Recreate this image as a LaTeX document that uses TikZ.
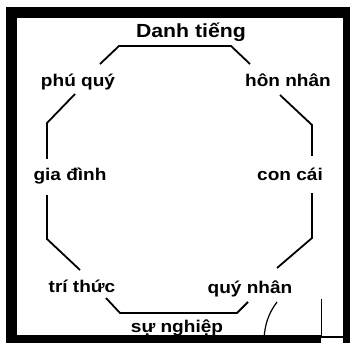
\documentclass[tikz,border=0pt]{standalone}
\usepackage{fontspec}
\newfontfamily\labfont[FakeStretch=1.12]{Liberation Sans Bold}
\begin{document}
\begin{tikzpicture}[x=1pt,y=-1pt,
  lab/.style={anchor=base,inner sep=0pt,font=\labfont\fontsize{17}{17}\selectfont},
  edge/.style={line width=1.8pt,line join=miter},
  thin/.style={line width=1.2pt}]
\useasboundingbox (0,0) rectangle (352,344);
% frame
\fill[black] (6,7) rectangle (350,18);
\fill[black] (6,7) rectangle (17,343);
\fill[black] (343,7) rectangle (350,343);
\fill[black] (6,335) rectangle (321,343);
\fill[white] (322,300) rectangle (343,343);
\draw[thin] (321.5,299) -- (321.5,337) -- (343,337);
% labels
\node[lab,font=\labfont\fontsize{19}{19}\selectfont] (danh) at (191,38) {Danh tiếng};
\node[lab] (phu) at (78,87) {phú quý};
\node[lab] (hon) at (288,87) {hôn nhân};
\node[lab] (gia) at (70,181) {gia đình};
\node[lab] (con) at (290,181) {con cái};
\node[lab] (tri) at (82,292) {trí thức};
\node[lab] (quy) at (250,293) {quý nhân};
\node[lab] (su) at (177,332) {sự nghiệp};
% octagon corners
\coordinate (a1) at (100,64); \coordinate (a2) at (119,46);
\coordinate (a3) at (231,46); \coordinate (a4) at (250,64);
\coordinate (b1) at (75,94); \coordinate (b2) at (47,123); \coordinate (b3) at (47,159);
\coordinate (c1) at (47,195); \coordinate (c2) at (47,239); \coordinate (c3) at (80,270);
\coordinate (d1) at (106,298); \coordinate (d2) at (120,313);
\coordinate (d3) at (237,313); \coordinate (d4) at (248,302);
\coordinate (e1) at (277,268); \coordinate (e2) at (312,238); \coordinate (e3) at (312,193);
\coordinate (f1) at (312,156); \coordinate (f2) at (312,125); \coordinate (f3) at (280,95);
\draw[edge] (a1) -- (a2) -- (a3) -- (a4);
\draw[edge] (b1) -- (b2) -- (b3);
\draw[edge] (c1) -- (c2) -- (c3);
\draw[edge] (d1) -- (d2) -- (d3) -- (d4);
\draw[edge] (e1) -- (e2) -- (e3);
\draw[edge] (f1) -- (f2) -- (f3);
% stray stroke
\coordinate (s1) at (277,302); \coordinate (s2) at (264,338);
\draw[thin] (s1) .. controls (268,314) and (265,325) .. (s2);
\end{tikzpicture}
\end{document}
